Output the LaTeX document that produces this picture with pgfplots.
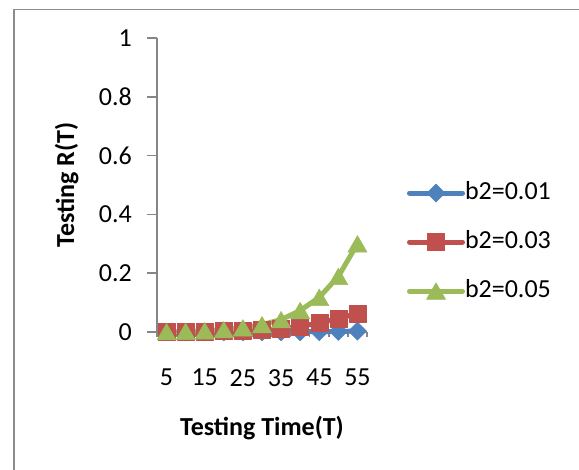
\documentclass[border=0pt]{standalone}
\usepackage{pgfplots}
\pgfplotsset{compat=1.18}
\usepackage{fontspec}
\setmainfont{Carlito}
\definecolor{s1}{HTML}{4F81BD}
\definecolor{s2}{HTML}{C0504D}
\definecolor{s3}{HTML}{9BBB59}
\definecolor{axgray}{HTML}{868686}
\definecolor{framegray}{HTML}{8C8C8C}
\begin{document}
\begin{tikzpicture}[x=1bp,y=1bp]
\useasboundingbox (0,0) rectangle (579,470);
\draw[framegray, line width=2.5bp] (14,0) -- (14,461);
\draw[framegray, line width=1.5bp] (13,460.5) -- (579,460.5);
\begin{axis}[
  at={(157bp,138bp)}, anchor=south west,
  scale only axis, width=210bp, height=294bp,
  xmin=2.5, xmax=57.5, ymin=0, ymax=1,
  clip=false,
  axis x line=bottom, axis y line=left,
  axis line style={-, axgray, line width=1.5bp},
  xtick={5,15,25,35,45,55},
  major x tick style={draw=none},
  extra x ticks={2.5,7.5,12.5,17.5,22.5,27.5,32.5,37.5,42.5,47.5,52.5,57.5},
  extra x tick labels={},
  extra x tick style={tick align=outside, major tick length=5bp,
     major x tick style={draw=axgray, line width=1.5bp}},
  ytick={0,0.2,0.4,0.6,0.8,1},
  yticklabels={0,0.2,0.4,0.6,0.8,1},
  tick align=outside, major tick length=10bp,
  ytick style={axgray, line width=1.5bp},
  tick label style={font=\fontsize{26bp}{30bp}\selectfont, inner sep=0pt},
  /pgf/number format/assume math mode=true,
  yticklabel style={anchor=east, xshift=-15bp},
  xticklabel style={anchor=north, yshift=-27bp},
  xlabel={Testing Time(T)},
  ylabel={Testing R(T)},
  label style={font=\fontsize{26bp}{30bp}\selectfont\bfseries},
  xlabel style={at={(0.5,-0.3265)}, anchor=center},
  ylabel style={at={(-0.43,0.5)}, anchor=center},
  legend style={at={(1.1905,0.306)}, anchor=west, draw=none, fill=none,
    inner sep=0pt, outer sep=0pt, row sep=26bp,
    font=\fontsize{26bp}{30bp}\selectfont,
    nodes={inner sep=0pt, text height=18bp, text depth=5bp}},
  legend cell align=left,
  legend image code/.code={\draw[mark repeat=2,mark phase=2,#1] plot coordinates {(0bp,0bp) (26.5bp,0bp) (53bp,0bp)};},
  every axis plot/.append style={line width=5bp, line cap=round, line join=round},
]
\addplot[s1, mark=square*, mark options={rotate=45, s1, line width=0.5bp}, mark size=6.4bp]
  coordinates {(5,0) (10,0) (15,0) (20,0) (25,0.0001) (30,0.0002) (35,0.0004) (40,0.0007) (45,0.0012) (50,0.002) (55,0.003)};
\addlegendentry{b2=0.01}
\addplot[s2, mark=square*, mark options={s2, line width=0.5bp}, mark size=8.5bp]
  coordinates {(5,0.001) (10,0.001) (15,0.002) (20,0.003) (25,0.004) (30,0.007) (35,0.011) (40,0.019) (45,0.031) (50,0.046) (55,0.063)};
\addlegendentry{b2=0.03}
\addplot[s3, mark=triangle*, mark options={s3, line width=0.5bp, yshift=-2.75bp}, mark size=11bp]
  coordinates {(5,0.001) (10,0.002) (15,0.004) (20,0.008) (25,0.014) (30,0.025) (35,0.042) (40,0.073) (45,0.118) (50,0.189) (55,0.300)};
\addlegendentry{b2=0.05}
\end{axis}
\end{tikzpicture}
\end{document}
